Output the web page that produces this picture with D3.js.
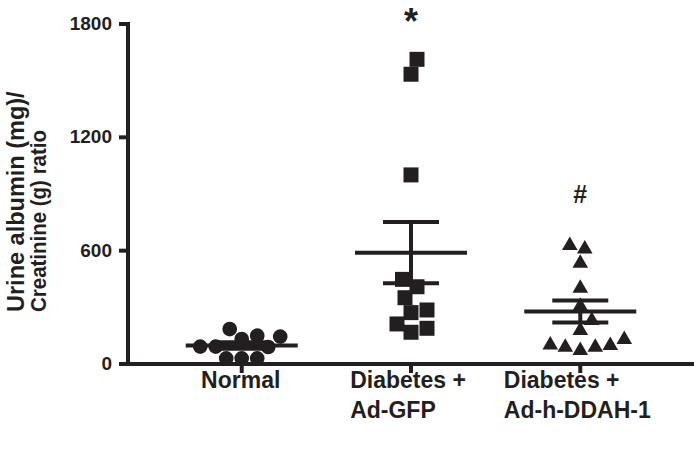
<!DOCTYPE html>
<html><head><meta charset="utf-8">
<script src="https://cdn.jsdelivr.net/npm/d3@7"></script>
<style>body{margin:0;background:#fff} svg{display:block}</style>
</head><body>
<svg id="chart" width="696" height="452"></svg>
<script>
// ---------------- data ----------------
const categories = ["Normal", "Diabetes + Ad-GFP", "Diabetes + Ad-h-DDAH-1"];
const categoryLines = [["Normal"], ["Diabetes +", "Ad-GFP"], ["Diabetes +", "Ad-h-DDAH-1"]];
const normalValues = [132, 150, 145, 185, 90, 92, 92, 30, 30, 30];
const gfpValues = [1613, 1534, 1001, 448, 409, 351, 286, 272, 212, 189, 168];
const ddahValues = [639, 621, 545, 413, 318, 242, 189, 141, 113, 110, 101, 101, 83];
const yTicks = [0, 600, 1200, 1800];
const yTitleLines = ["Urine albumin (mg)/", "Creatinine (g) ratio"];
const significance = ["", "*", "#"];
const significanceLevel = [0, 1745, 855];

// ---------------- layout ----------------
const ink = "#231f20";
const font = "'Liberation Sans', Arial, Helvetica, sans-serif";
const svg = d3.select("#chart");

const y = d3.scaleLinear().domain([0, 1800]).range([364, 24]);
const x = d3.scaleBand().domain(categories).range([130, 692]).paddingInner(0).paddingOuter(0.16);
const cx = c => x(c) + x.bandwidth() / 2;

// ---------------- axes ----------------
const yAxis = d3.axisLeft(y).tickValues(yTicks).tickFormat(d3.format("d"))
  .tickSize(9).tickSizeOuter(0).tickPadding(7).offset(0);
const gy = svg.append("g").attr("transform", "translate(128,0)").call(yAxis);
gy.select(".domain").attr("stroke", ink).attr("stroke-width", 4).attr("stroke-linecap", "square");
gy.selectAll(".tick line").attr("stroke", ink).attr("stroke-width", 4);
gy.selectAll(".tick text").attr("fill", ink).attr("font-family", font).attr("font-weight", "bold").attr("font-size", 19);

const xAxis = d3.axisBottom(x).tickSize(9).tickSizeOuter(0).tickFormat("").offset(0);
const gx = svg.append("g").attr("transform", `translate(0,${y(0)})`).call(xAxis);
gx.select(".domain").attr("stroke", ink).attr("stroke-width", 4).attr("stroke-linecap", "square");
gx.selectAll(".tick line").attr("stroke", ink).attr("stroke-width", 4);

// x category labels: left-aligned lines, block centred (slightly left) on tick
categories.forEach((c, i) => {
  const g = svg.append("g");
  const texts = categoryLines[i].map((line, j) =>
    g.append("text").text(line)
      .attr("y", 388 + j * 30)
      .attr("fill", ink).attr("font-family", font).attr("font-weight", "bold").attr("font-size", 23));
  const w = d3.max(texts, t => t.node().getComputedTextLength());
  const shift = texts.length > 1 ? -3 : -1;
  texts.forEach(t => t.attr("x", cx(c) - w / 2 + shift));
});

// y title
const yt = svg.append("g").attr("transform", "rotate(-90)");
yTitleLines.forEach((line, j) => {
  const t = yt.append("text").text(line)
    .attr("x", -312).attr("y", 24 + j * 22)
    .attr("text-anchor", "start")
    .attr("fill", ink).attr("font-family", font).attr("font-weight", "bold").attr("font-size", j === 0 ? 23.5 : 22);
  if (j === 1) t.attr("textLength", 182).attr("lengthAdjust", "spacingAndGlyphs");
});

// ---------------- symbols ----------------
const triangleCentered = {
  draw(ctx, size) {
    const s = Math.sqrt(size * 4 / Math.sqrt(3)); // side
    const h = s * Math.sqrt(3) / 2;
    ctx.moveTo(0, -h / 2); ctx.lineTo(s / 2, h / 2); ctx.lineTo(-s / 2, h / 2); ctx.closePath();
  }
};
const groups = [
  { cat: categories[0], values: normalValues, type: d3.symbolCircle, size: 170, diam: 15.5 },
  { cat: categories[1], values: gfpValues, type: d3.symbolSquare, size: 225, diam: 16 },
  { cat: categories[2], values: ddahValues, type: triangleCentered, size: 105, diam: 15 }
];

// simple deterministic beeswarm (pixel space)
function swarm(values, diam) {
  const order = values.map((v, i) => i).sort((a, b) => values[a] - values[b]);
  const placed = [];
  const out = new Array(values.length);
  order.forEach(i => {
    const py = y(values[i]);
    let dx = 0;
    for (let k = 0; k < 400; k++) {
      const cand = k === 0 ? 0 : (k % 2 ? Math.ceil(k / 2) : -k / 2) * 0.5;
      if (placed.every(p => Math.hypot(p.x - cand, p.y - py) >= diam)) { dx = cand; break; }
    }
    placed.push({ x: dx, y: py });
    out[i] = dx;
  });
  return out;
}

groups.forEach(gr => {
  const offs = swarm(gr.values, gr.diam);
  const sym = d3.symbol().type(gr.type).size(gr.size);
  svg.append("g").selectAll("path").data(gr.values).join("path")
    .attr("d", sym)
    .attr("transform", (v, i) => `translate(${cx(gr.cat) + offs[i]},${y(v)})`)
    .attr("fill", ink);

  // mean and SEM
  const m = d3.mean(gr.values);
  const sem = d3.deviation(gr.values) / Math.sqrt(gr.values.length);
  const c = cx(gr.cat);
  const eg = svg.append("g").attr("stroke", ink).attr("stroke-width", 4);
  eg.append("line").attr("x1", c - 56).attr("x2", c + 56).attr("y1", y(m)).attr("y2", y(m));
  eg.append("line").attr("x1", c - 28).attr("x2", c + 28).attr("y1", y(m + sem)).attr("y2", y(m + sem));
  eg.append("line").attr("x1", c - 28).attr("x2", c + 28).attr("y1", y(m - sem)).attr("y2", y(m - sem));
  eg.append("line").attr("x1", c).attr("x2", c).attr("y1", y(m + sem)).attr("y2", y(m - sem));
});

// significance marks
categories.forEach((c, i) => {
  if (!significance[i]) return;
  svg.append("text").text(significance[i])
    .attr("x", cx(c)).attr("y", y(significanceLevel[i]))
    .attr("text-anchor", "middle")
    .attr("fill", ink).attr("font-family", font).attr("font-weight", "bold")
    .attr("font-size", significance[i] === "*" ? 36 : 25);
});
</script>
</body></html>
